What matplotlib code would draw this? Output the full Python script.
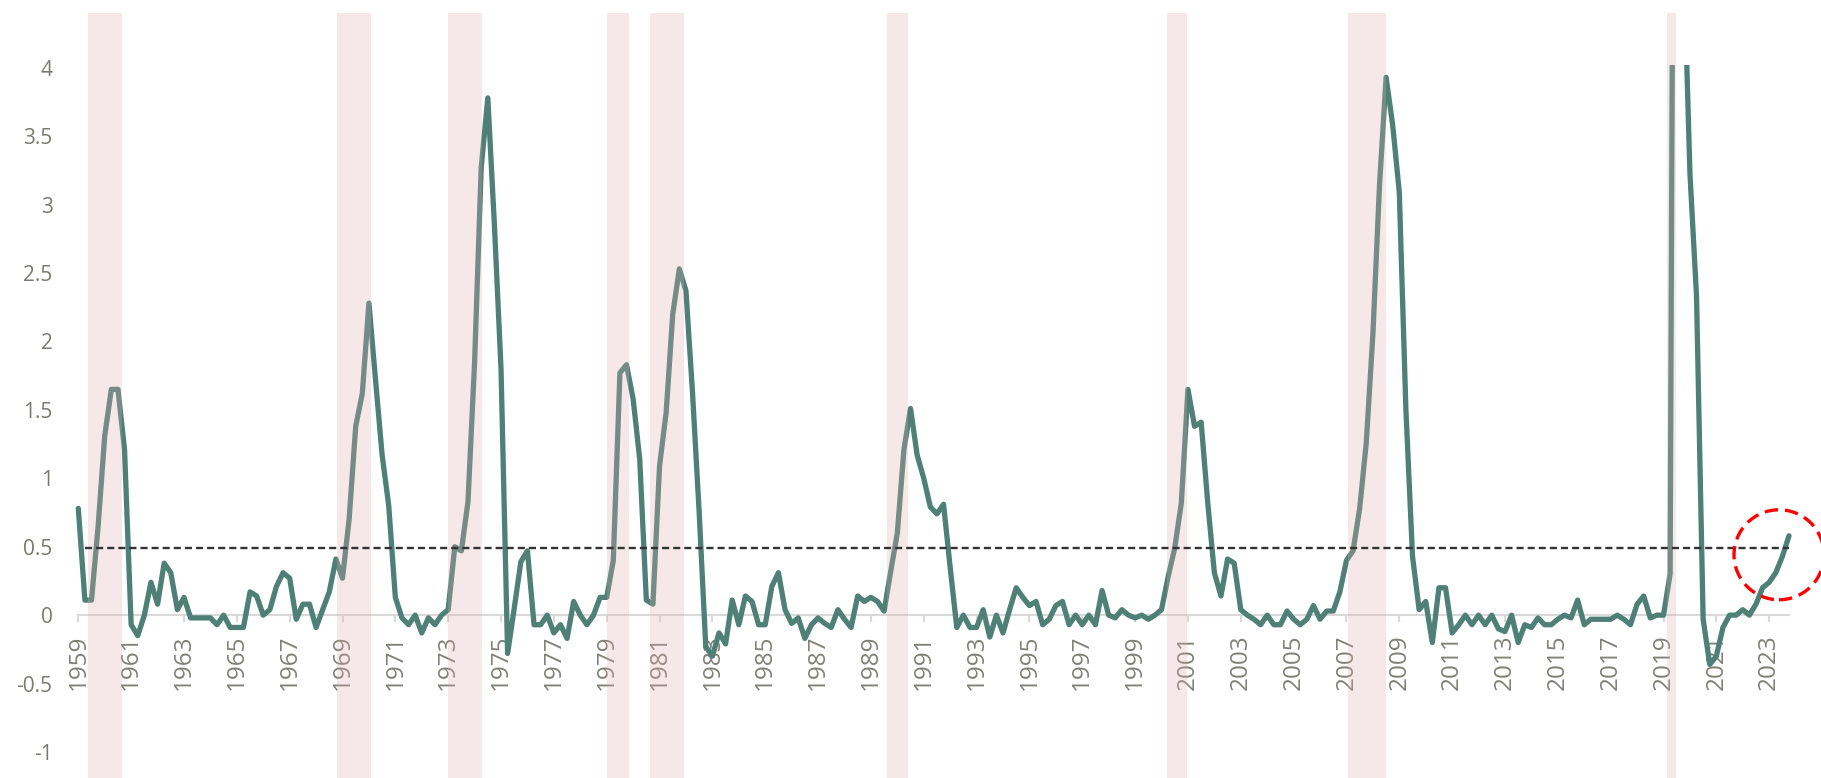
import numpy as np
import matplotlib.pyplot as plt
from matplotlib.patches import Rectangle, Circle
from matplotlib.transforms import ScaledTranslation

plt.rcParams['font.family'] = ['Open Sans', 'DejaVu Sans']
plt.rcParams['axes.unicode_minus'] = False

# quarterly series, first point = 1959 Q1 (positions follow the chart's own year labels)
start_year = 1959
values = [
    0.78, 0.11, 0.11, 0.65,     # 1959
    1.31, 1.65, 1.65, 1.21,     # 1960
    -0.07, -0.15, 0.00, 0.24,   # 1961
    0.08, 0.38, 0.31, 0.04,     # 1962
    0.13, -0.02, -0.02, -0.02,  # 1963
    -0.02, -0.07, 0.00, -0.09,  # 1964
    -0.09, -0.09, 0.17, 0.14,   # 1965
    0.00, 0.04, 0.21, 0.31,     # 1966
    0.27, -0.03, 0.08, 0.08,    # 1967
    -0.09, 0.04, 0.17, 0.41,    # 1968
    0.27, 0.70, 1.38, 1.62,     # 1969
    2.28, 1.72, 1.17, 0.80,     # 1970
    0.13, -0.02, -0.07, 0.00,   # 1971
    -0.13, -0.02, -0.07, 0.00,  # 1972
    0.04, 0.50, 0.47, 0.83,     # 1973
    1.85, 3.27, 3.78, 2.85,     # 1974
    1.80, -0.28, 0.05, 0.39,    # 1975
    0.47, -0.07, -0.07, 0.00,   # 1976
    -0.13, -0.07, -0.17, 0.10,  # 1977
    0.00, -0.07, 0.00, 0.13,    # 1978
    0.13, 0.40, 1.77, 1.83,     # 1979
    1.58, 1.14, 0.11, 0.08,     # 1980
    1.09, 1.48, 2.20, 2.53,     # 1981
    2.37, 1.62, 0.75, -0.23,    # 1982
    -0.30, -0.13, -0.21, 0.11,  # 1983
    -0.07, 0.14, 0.10, -0.07,   # 1984
    -0.07, 0.21, 0.31, 0.04,    # 1985
    -0.06, -0.02, -0.17, -0.07, # 1986
    -0.02, -0.06, -0.09, 0.04,  # 1987
    -0.03, -0.09, 0.14, 0.10,   # 1988
    0.13, 0.10, 0.03, 0.32,     # 1989
    0.60, 1.21, 1.51, 1.17,     # 1990
    1.00, 0.79, 0.74, 0.81,     # 1991
    0.35, -0.09, 0.00, -0.09,   # 1992
    -0.09, 0.04, -0.16, 0.00,   # 1993
    -0.13, 0.04, 0.20, 0.13,    # 1994
    0.07, 0.10, -0.07, -0.03,   # 1995
    0.07, 0.10, -0.07, 0.00,    # 1996
    -0.07, 0.00, -0.07, 0.18,   # 1997
    0.00, -0.02, 0.04, 0.00,    # 1998
    -0.02, 0.00, -0.03, 0.00,   # 1999
    0.04, 0.28, 0.49, 0.82,     # 2000
    1.65, 1.38, 1.41, 0.82,     # 2001
    0.31, 0.14, 0.41, 0.38,     # 2002
    0.04, 0.00, -0.03, -0.07,   # 2003
    0.00, -0.07, -0.07, 0.03,   # 2004
    -0.03, -0.07, -0.03, 0.07,  # 2005
    -0.03, 0.03, 0.03, 0.17,    # 2006
    0.40, 0.47, 0.78, 1.26,     # 2007
    2.05, 3.14, 3.93, 3.58,     # 2008
    3.09, 1.50, 0.43, 0.04,     # 2009
    0.10, -0.20, 0.20, 0.20,    # 2010
    -0.13, -0.07, 0.00, -0.07,  # 2011
    0.00, -0.07, 0.00, -0.10,   # 2012
    -0.12, 0.00, -0.20, -0.07,  # 2013
    -0.09, -0.02, -0.07, -0.07, # 2014
    -0.03, 0.00, -0.02, 0.11,   # 2015
    -0.07, -0.03, -0.03, -0.03, # 2016
    -0.03, 0.00, -0.03, -0.07,  # 2017
    0.08, 0.14, -0.02, 0.00,    # 2018
    0.00, 0.30, 12.0, 4.90,     # 2019
    3.23, 2.33, -0.03, -0.36,   # 2020
    -0.30, -0.09, 0.00, 0.00,   # 2021
    0.04, 0.00, 0.08, 0.20,     # 2022
    0.24, 0.31, 0.43, 0.58,     # 2023
]
threshold = 0.49
y_cap = 4.02   # line is cut off above this in the original

recessions = [(1959.37, 1960.64), (1968.79, 1970.06), (1973.0, 1974.27),
              (1979.0, 1979.83), (1980.63, 1981.91), (1989.6, 1990.39),
              (2000.22, 2000.96), (2007.06, 2008.51), (2019.13, 2019.48)]

tick_years = list(range(1959, 2024, 2))
y_ticks = [-1, -0.5, 0, 0.5, 1, 1.5, 2, 2.5, 3, 3.5, 4]
y_labels = ['-1', '-0.5', '0', '0.5', '1', '1.5', '2', '2.5', '3', '3.5', '4']

t = start_year + np.arange(len(values)) / 4

W, H = 1821, 778
fig = plt.figure(figsize=(W / 100, H / 100), dpi=100)
ax = fig.add_axes([78.3 / W, 0, 1710.7 / W, 765 / H])
ax.set_xlim(t[0], t[-1])
ax.set_ylim(-1.19, 4.40)

line, = ax.plot(t, values, color='#4e8076', lw=3.8, zorder=3,
                solid_joinstyle='round', solid_capstyle='round')
line.set_clip_path(Rectangle((t[0] - 5, -10), 100, y_cap + 10, transform=ax.transData))

for a, b in recessions:
    ax.axvspan(a, b, color=(225 / 255, 170 / 255, 174 / 255), alpha=0.27, lw=0, zorder=5)

ax.hlines(threshold, t[1], t[-1], colors='#333333', lw=1.7,
          linestyles=(0, (3.0, 1.7)), zorder=6)

# red dashed ring around the latest reading
ring = Circle((-0.10, -0.19), 0.45, fill=False, ec='#ff0000', lw=2.4,
              ls=(0, (4, 2.1)), clip_on=False, zorder=7,
              transform=fig.dpi_scale_trans + ScaledTranslation(t[-1], values[-1], ax.transData))
ax.add_patch(ring)

for s in ['left', 'top', 'right']:
    ax.spines[s].set_visible(False)
ax.spines['bottom'].set_position(('data', 0))
ax.spines['bottom'].set_color('#d9d9d9')
ax.spines['bottom'].set_linewidth(1.5)

ax.set_xticks(tick_years)
ax.set_xticklabels([str(y) for y in tick_years], rotation=90, va='top')
ax.tick_params(axis='x', length=5, width=1.5, color='#d9d9d9', pad=9,
               labelsize=17.5, labelcolor='#808078')
ax.set_yticks(y_ticks)
ax.set_yticklabels(y_labels)
ax.tick_params(axis='y', length=0, pad=18.5, labelsize=15, labelcolor='#7a7a72')

fig.savefig('out.png', dpi=100)
